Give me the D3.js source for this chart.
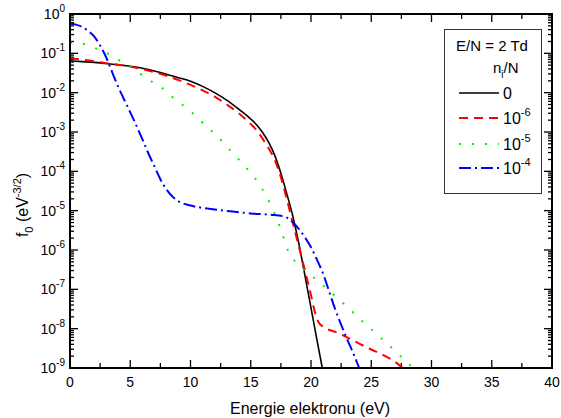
<!DOCTYPE html>
<html>
<head>
<meta charset="utf-8">
<script src="https://cdn.jsdelivr.net/npm/d3@7/dist/d3.min.js"></script>
<style>
  html, body { margin: 0; padding: 0; background: #fff; }
  svg { display: block; }
  text { font-family: "Liberation Sans", Arial, sans-serif; fill: #000; }
</style>
</head>
<body>
<svg id="chart" width="561" height="418"></svg>
<script>
// Electron energy distribution f0 for E/N = 2 Td at several ionisation degrees n_i/N.
// Values are given as log10(f0) against electron energy (eV).
const energy0 = [0, 1, 2, 3, 4, 5, 6, 7, 8, 9, 10, 11, 12, 13, 14, 15, 15.5, 16, 16.5, 17, 17.5, 18, 18.5, 19, 19.5, 20, 20.5, 21];
const logF0_0 = [-1.19, -1.21, -1.23, -1.26, -1.29, -1.33, -1.38, -1.45, -1.53, -1.62, -1.71, -1.84, -2.0, -2.19, -2.42, -2.67, -2.82, -3.02, -3.27, -3.6, -4.05, -4.58, -5.15, -5.85, -6.65, -7.47, -8.3, -9.1];

const energy6 = [0, 1, 2, 3, 4, 5, 6, 7, 8, 9, 10, 11, 12, 13, 14, 15, 15.5, 16, 16.5, 17, 17.5, 18, 18.5, 19, 19.5, 20, 20.3, 20.6, 21, 22, 23, 24, 25, 26, 27, 27.6];
const logF0_6 = [-1.13, -1.16, -1.2, -1.25, -1.29, -1.34, -1.4, -1.48, -1.57, -1.68, -1.8, -1.94, -2.1, -2.3, -2.52, -2.8, -2.96, -3.18, -3.42, -3.72, -4.15, -4.72, -5.32, -5.92, -6.52, -7.15, -7.55, -7.82, -7.95, -8.08, -8.22, -8.38, -8.53, -8.67, -8.85, -9.0];

const energy5 = [0, 0.5, 1, 1.8, 2.6, 3.5, 4.4, 5.3, 6.1, 7.0, 7.9, 8.7, 9.6, 10.5, 11.3, 12.2, 13.0, 13.8, 14.6, 15.3, 15.9, 16.4, 16.8, 17.2, 17.5, 17.8, 18.1, 18.7, 19.5, 20.3, 21.2, 22.1, 23.0, 23.8, 24.7, 25.5, 26.4, 27.2, 28.1, 28.4];
const logF0_5 = [-0.73, -0.73, -0.75, -0.83, -0.94, -1.06, -1.24, -1.39, -1.58, -1.76, -1.94, -2.17, -2.37, -2.61, -2.85, -3.1, -3.37, -3.63, -3.9, -4.15, -4.42, -4.69, -4.96, -5.22, -5.49, -5.75, -6.02, -6.3, -6.53, -6.72, -6.95, -7.2, -7.44, -7.68, -7.93, -8.16, -8.4, -8.64, -8.88, -9.0];

const energy4 = [0, 0.5, 1, 1.5, 2, 2.5, 3, 3.5, 4, 4.5, 5, 5.5, 6, 6.5, 7, 7.5, 8, 8.5, 9, 10, 11, 12, 13, 14, 15, 16, 17, 17.5, 18, 18.5, 19, 19.5, 20, 20.5, 21, 21.5, 22, 22.5, 23, 23.5, 24];
const logF0_4 = [-0.25, -0.27, -0.33, -0.43, -0.57, -0.8, -1.1, -1.48, -1.85, -2.18, -2.5, -2.83, -3.18, -3.54, -3.87, -4.2, -4.46, -4.64, -4.76, -4.87, -4.93, -4.97, -5.01, -5.04, -5.07, -5.09, -5.11, -5.13, -5.18, -5.3, -5.47, -5.68, -5.93, -6.25, -6.6, -7.05, -7.5, -7.9, -8.27, -8.62, -9.0];

const seriesNames = ["0", "10^-6", "10^-5", "10^-4"];
const seriesColors = ["#000000", "#ff0000", "#00ee00", "#0000ff"];
const seriesDashes = [null, "9,6", "2,11", "12,4,2,4"];
const seriesData = [[energy0, logF0_0], [energy6, logF0_6], [energy5, logF0_5], [energy4, logF0_4]];

const xTicks = [0, 5, 10, 15, 20, 25, 30, 35, 40];
const yExponents = [0, -1, -2, -3, -4, -5, -6, -7, -8, -9];

const svg = d3.select("#chart");
const plotLeft = 70, plotRight = 552, plotTop = 14, plotBottom = 368;

const x = d3.scaleLinear().domain([0, 40]).range([plotLeft, plotRight]);
const y = d3.scaleLog().domain([1e-9, 1]).range([plotBottom, plotTop]);

// clip curves to the plotting frame
svg.append("defs").append("clipPath").attr("id", "plotClip")
  .append("rect").attr("x", plotLeft).attr("y", plotTop)
  .attr("width", plotRight - plotLeft).attr("height", plotBottom - plotTop);

// minor decade ticks (2..9 x 10^k)
const minorY = [];
for (let k = -9; k < 0; k++) for (let m = 2; m <= 9; m++) minorY.push(m * Math.pow(10, k));
const majorY = yExponents.map(e => Math.pow(10, e));
const minorX = d3.range(2.5, 40, 5);

const tickG = svg.append("g").attr("stroke", "#000").attr("stroke-width", 1.3);
// left & right axes
majorY.forEach(v => {
  tickG.append("line").attr("x1", plotLeft).attr("x2", plotLeft + 8).attr("y1", y(v)).attr("y2", y(v));
  tickG.append("line").attr("x1", plotRight).attr("x2", plotRight - 8).attr("y1", y(v)).attr("y2", y(v));
});
minorY.forEach(v => {
  tickG.append("line").attr("x1", plotLeft).attr("x2", plotLeft + 4).attr("y1", y(v)).attr("y2", y(v));
  tickG.append("line").attr("x1", plotRight).attr("x2", plotRight - 4).attr("y1", y(v)).attr("y2", y(v));
});
// bottom & top axes
xTicks.forEach(v => {
  tickG.append("line").attr("x1", x(v)).attr("x2", x(v)).attr("y1", plotBottom).attr("y2", plotBottom - 8);
  tickG.append("line").attr("x1", x(v)).attr("x2", x(v)).attr("y1", plotTop).attr("y2", plotTop + 8);
});
minorX.forEach(v => {
  tickG.append("line").attr("x1", x(v)).attr("x2", x(v)).attr("y1", plotBottom).attr("y2", plotBottom - 5);
  tickG.append("line").attr("x1", x(v)).attr("x2", x(v)).attr("y1", plotTop).attr("y2", plotTop + 5);
});

// curves
const line = d3.line()
  .x(d => x(d[0]))
  .y(d => y(Math.pow(10, d[1])))
  .curve(d3.curveMonotoneX);

const curves = svg.append("g").attr("clip-path", "url(#plotClip)");
seriesData.forEach((s, i) => {
  const pts = s[0].map((e, j) => [e, s[1][j]]);
  curves.append("path")
    .datum(pts)
    .attr("d", line)
    .attr("fill", "none")
    .attr("stroke", seriesColors[i])
    .attr("stroke-width", i === 0 ? 1.6 : 2)
    .attr("stroke-dasharray", seriesDashes[i]);
});

// frame
svg.append("rect").attr("x", plotLeft).attr("y", plotTop)
  .attr("width", plotRight - plotLeft).attr("height", plotBottom - plotTop)
  .attr("fill", "none").attr("stroke", "#000").attr("stroke-width", 2);

// y tick labels: 10^k
yExponents.forEach(e => {
  const t = svg.append("text").attr("x", plotLeft - 5).attr("y", y(Math.pow(10, e)) + 5)
    .attr("text-anchor", "end").attr("font-size", 14);
  t.append("tspan").text("10");
  t.append("tspan").attr("dy", -7).attr("font-size", 10).text(e === 0 ? "0" : "-" + (-e));
});

// x tick labels
xTicks.forEach(v => {
  svg.append("text").attr("x", x(v)).attr("y", plotBottom + 19)
    .attr("text-anchor", "middle").attr("font-size", 14).text(v);
});

// axis titles
svg.append("text").attr("x", (plotLeft + plotRight) / 2 - 1).attr("y", 414)
  .attr("text-anchor", "middle").attr("font-size", 16).text("Energie elektronu (eV)");

const yt = svg.append("text").attr("transform", "translate(28,205) rotate(-90)")
  .attr("text-anchor", "middle").attr("font-size", 16);
yt.append("tspan").text("f");
yt.append("tspan").attr("dy", 5).attr("font-size", 11).text("0");
yt.append("tspan").attr("dy", -5).text(" (eV");
yt.append("tspan").attr("dy", -7).attr("font-size", 11).text("-3/2");
yt.append("tspan").attr("dy", 7).text(")");

// legend
const lg = svg.append("g");
lg.append("rect").attr("x", 444.5).attr("y", 29.5).attr("width", 97).attr("height", 164)
  .attr("fill", "#fff").attr("stroke", "#333").attr("stroke-width", 1);
lg.append("text").attr("x", 492).attr("y", 51).attr("text-anchor", "middle").attr("font-size", 15).text("E/N = 2 Td");
const ni = lg.append("text").attr("x", 493).attr("y", 73).attr("font-size", 15);
ni.append("tspan").text("n");
ni.append("tspan").attr("dy", 5).attr("font-size", 10).text("i");
ni.append("tspan").attr("dy", -5).text("/N");

const legendY = [93, 118, 144, 168];
seriesNames.forEach((name, i) => {
  lg.append("line").attr("x1", 459).attr("x2", 499).attr("y1", legendY[i]).attr("y2", legendY[i])
    .attr("stroke", seriesColors[i]).attr("stroke-width", i === 0 ? 1.6 : 2)
    .attr("stroke-dasharray", seriesDashes[i]);
  const t = lg.append("text").attr("x", 503).attr("y", legendY[i] + 6).attr("font-size", 16);
  if (name === "0") {
    t.text("0");
  } else {
    t.append("tspan").text("10");
    t.append("tspan").attr("dy", -8).attr("font-size", 11).text(name.split("^")[1]);
  }
});
</script>
</body>
</html>
